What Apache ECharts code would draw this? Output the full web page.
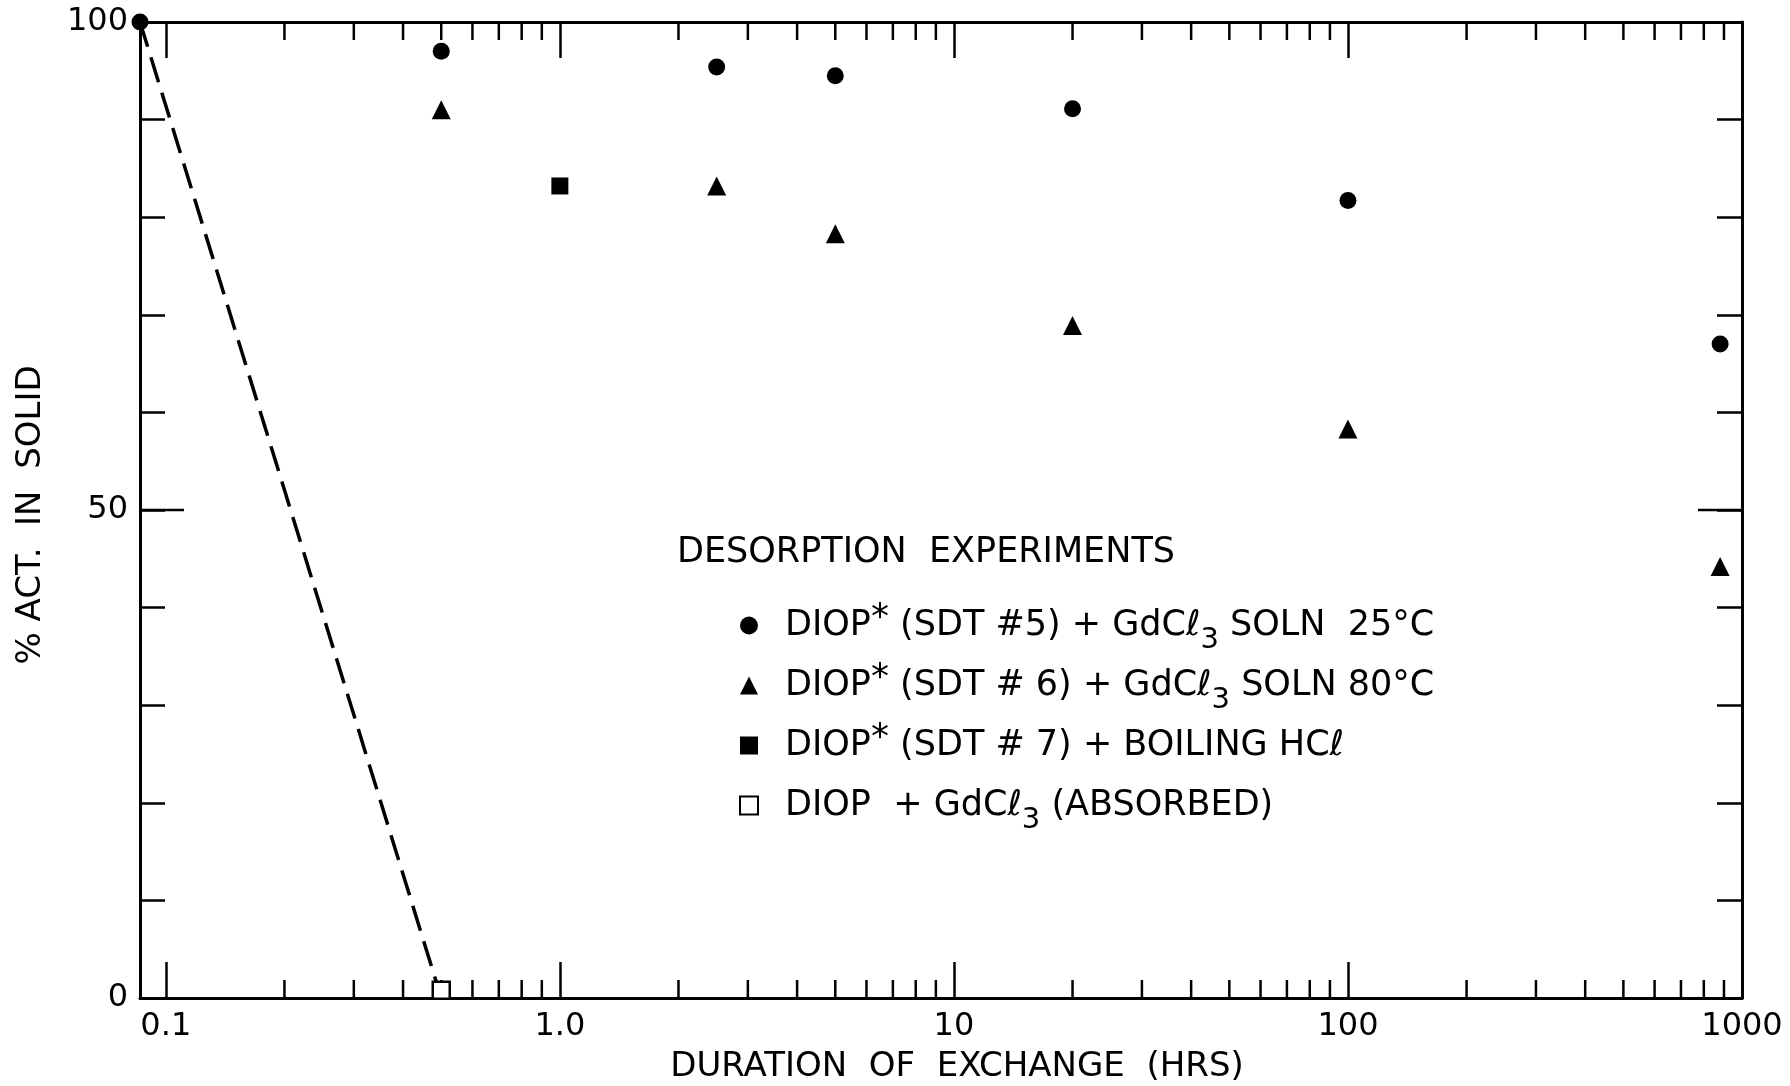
<!DOCTYPE html>
<html>
<head>
<meta charset="utf-8">
<script src="https://cdn.jsdelivr.net/npm/echarts@6/dist/echarts.min.js"></script>
<style>
  html, body { margin: 0; padding: 0; background: #fff; }
  #chart { width: 1790px; height: 1086px; }
</style>
</head>
<body>
<div id="chart"></div>
<script>
// Desorption experiments: % of activity left in the solid vs. duration of exchange (log hours)

// DIOP* (SDT #5) + GdCl3 solution, 25 C  (first point = start of exchange, at the left edge)
const hours25C = [0.086, 0.5, 2.5, 5, 20, 100, 880];
const act25C   = [100, 97.0, 95.4, 94.5, 91.1, 81.7, 67.0];
// DIOP* (SDT #6) + GdCl3 solution, 80 C
const hours80C = [0.5, 2.5, 5, 20, 100, 880];
const act80C   = [91.0, 83.2, 78.3, 68.9, 58.3, 44.2];
// DIOP* (SDT #7) + boiling HCl
const hoursHCl = [1.0];
const actHCl   = [83.2];
// DIOP + GdCl3 (absorbed)
const hoursAbsorbed = [0.5];
const actAbsorbed   = [0.8];
// dashed guide from the starting point down to the absorbed sample
const guideHours = [0.086, 0.5];
const guideAct   = [100, 0];

// axis ticks and labels
const xTickValues = [0.1, 1, 10, 100, 1000];
const xTickLabels = ['0.1', '1.0', '10', '100', '1000'];
const xMinorTicks = [0.2, 0.3, 0.4, 0.5, 0.6, 0.7, 0.8, 0.9,
                     2, 3, 4, 5, 6, 7, 8, 9,
                     20, 30, 40, 50, 60, 70, 80, 90,
                     200, 300, 400, 500, 600, 700, 800, 900];
const yLabelValues = [0, 50, 100];
const yLongTicks = [50];

// legend entries (rich text: superscript asterisk, subscript 3)
const seriesNames = ['SDT5', 'SDT6', 'SDT7', 'ABS'];
const legendLabels = [
  '{b|DIOP}{sup|*}{b| (SDT #5) + GdCℓ}{sub|3}{b| SOLN  25°C}',
  '{b|DIOP}{sup|*}{b| (SDT # 6) + GdCℓ}{sub|3}{b| SOLN 80°C}',
  '{b|DIOP}{sup|*}{b| (SDT # 7) + BOILING HCℓ}',
  '{b|DIOP  + GdCℓ}{sub|3}{b| (ABSORBED)}'
];

// the log paper's frame starts a little below the 0.1 graduation
const X_MIN = 0.086, X_MAX = 1000, Y_MIN = 0, Y_MAX = 100;
const FONT = 'DejaVu Sans';
const INK = '#000';

const pairs = (xs, ys) => xs.map((x, i) => [x, ys[i]]);

function xLabel(v) {
  const i = xTickValues.findIndex(t => Math.abs(Math.log10(t) - Math.log10(v)) < 1e-6);
  return i >= 0 ? xTickLabels[i] : '';
}
function yLabel(v) {
  return yLabelValues.indexOf(Math.round(v)) >= 0 ? String(Math.round(v)) : '';
}

const axisLine = { show: true, onZero: false, lineStyle: { color: INK, width: 3 } };
const tickStyle = { color: INK, width: 2.5 };

const chart = echarts.init(document.getElementById('chart'), null, { renderer: 'canvas' });

const option = {
  backgroundColor: '#fff',
  animation: false,
  grid: { left: 140, right: 48, top: 22, bottom: 88, containLabel: false },
  xAxis: [
    {
      type: 'log', logBase: 10, min: X_MIN, max: X_MAX, position: 'bottom',
      axisLine: axisLine,
      axisTick: { show: true, inside: true, length: 36, lineStyle: tickStyle },
      axisLabel: {
        show: true, margin: 13, color: INK, fontSize: 32, fontFamily: FONT,
        showMinLabel: true, showMaxLabel: true, formatter: xLabel
      },
      splitLine: { show: false }, minorTick: { show: false }, minorSplitLine: { show: false }
    },
    {
      type: 'log', logBase: 10, min: X_MIN, max: X_MAX, position: 'top',
      axisLine: axisLine,
      axisTick: { show: true, inside: true, length: 36, lineStyle: tickStyle },
      axisLabel: { show: false },
      splitLine: { show: false }, minorTick: { show: false }
    }
  ],
  yAxis: [
    {
      type: 'value', min: Y_MIN, max: Y_MAX, interval: 10, position: 'left',
      axisLine: axisLine,
      axisTick: { show: true, inside: true, length: 25, lineStyle: tickStyle },
      axisLabel: {
        show: true, margin: 12, color: INK, fontSize: 32, fontFamily: FONT,
        showMinLabel: true, showMaxLabel: true, formatter: yLabel
      },
      splitLine: { show: false }
    },
    {
      type: 'value', min: Y_MIN, max: Y_MAX, interval: 10, position: 'right',
      axisLine: axisLine,
      axisTick: { show: true, inside: true, length: 25, lineStyle: tickStyle },
      axisLabel: { show: false },
      splitLine: { show: false }
    }
  ],
  legend: {
    data: seriesNames,
    orient: 'vertical',
    left: 739, top: 590.5,
    padding: 0,
    itemGap: -10,
    itemWidth: 18, itemHeight: 18,
    selectedMode: false,
    formatter: name => legendLabels[seriesNames.indexOf(name)],
    textStyle: {
      color: INK, fontFamily: FONT, fontSize: 35,
      // a transparent box of fixed height keeps every entry the same height
      backgroundColor: 'rgba(255,255,255,0)',
      padding: [10, 0, 10, 22],
      rich: {
        b:   { color: INK, fontFamily: FONT, fontSize: 35, lineHeight: 50 },
        sup: { color: INK, fontFamily: FONT, fontSize: 36, lineHeight: 50, padding: [0, 0, 14, 0] },
        sub: { color: INK, fontFamily: FONT, fontSize: 29, lineHeight: 50, padding: [30, 0, 0, 0] }
      }
    }
  },
  graphic: [
    {
      type: 'text', x: 677, y: 553, silent: true,
      style: { text: 'DESORPTION  EXPERIMENTS', fill: INK, font: '35px "DejaVu Sans"',
               align: 'left', verticalAlign: 'middle' }
    },
    {
      type: 'text', x: 957, y: 1067, silent: true,
      style: { text: 'DURATION  OF  EXCHANGE  (HRS)', fill: INK, font: '34px "DejaVu Sans"',
               align: 'center', verticalAlign: 'middle' }
    },
    {
      type: 'text', x: 31, y: 515, rotation: Math.PI / 2, silent: true,
      style: { text: '% ACT.  IN  SOLID', fill: INK, font: '34px "DejaVu Sans"',
               align: 'center', verticalAlign: 'middle' }
    }
  ],
  series: [
    {
      // minor log ticks (2..9 in each decade) on the bottom and top edges
      type: 'custom', name: 'minorTicks', silent: true, clip: false,
      xAxisIndex: 0, yAxisIndex: 0,
      data: xMinorTicks.map(v => [v, Y_MIN]),
      renderItem: (params, api) => {
        const x = api.value(0);
        const b = api.coord([x, Y_MIN]);
        const t = api.coord([x, Y_MAX]);
        const len = 18;
        return {
          type: 'group',
          children: [
            { type: 'line', shape: { x1: b[0], y1: b[1], x2: b[0], y2: b[1] - len }, style: { stroke: INK, lineWidth: 2.5 } },
            { type: 'line', shape: { x1: t[0], y1: t[1], x2: t[0], y2: t[1] + len }, style: { stroke: INK, lineWidth: 2.5 } }
          ]
        };
      }
    },
    {
      // longer ticks marking the 50 % level on both vertical edges
      type: 'custom', name: 'longTicks', silent: true, clip: false,
      xAxisIndex: 0, yAxisIndex: 0,
      data: yLongTicks.map(v => [1, v]),
      renderItem: (params, api) => {
        const v = api.value(1);
        const l = api.coord([X_MIN, v]);
        const r = api.coord([X_MAX, v]);
        const len = 44;
        return {
          type: 'group',
          children: [
            { type: 'line', shape: { x1: l[0], y1: l[1], x2: l[0] + len, y2: l[1] }, style: { stroke: INK, lineWidth: 2.5 } },
            { type: 'line', shape: { x1: r[0], y1: r[1], x2: r[0] - len, y2: r[1] }, style: { stroke: INK, lineWidth: 2.5 } }
          ]
        };
      }
    },
    {
      type: 'line', name: 'guide', silent: true,
      data: pairs(guideHours, guideAct),
      symbol: 'none',
      lineStyle: { color: INK, width: 3.5, type: [26, 11] },
      z: 2
    },
    {
      type: 'scatter', name: seriesNames[0],
      data: pairs(hours25C, act25C),
      symbol: 'circle', symbolSize: 17,
      itemStyle: { color: INK, opacity: 1 },
      z: 3
    },
    {
      type: 'scatter', name: seriesNames[1],
      data: pairs(hours80C, act80C),
      symbol: 'triangle', symbolSize: [19, 19],
      itemStyle: { color: INK, opacity: 1 },
      z: 3
    },
    {
      type: 'scatter', name: seriesNames[2],
      data: pairs(hoursHCl, actHCl),
      symbol: 'rect', symbolSize: 17,
      itemStyle: { color: INK, opacity: 1 },
      z: 3
    },
    {
      type: 'scatter', name: seriesNames[3],
      data: pairs(hoursAbsorbed, actAbsorbed),
      symbol: 'rect', symbolSize: 17,
      itemStyle: { color: '#fff', borderColor: INK, borderWidth: 2.5, opacity: 1 },
      z: 4
    }
  ]
};

chart.setOption(option);
</script>
</body>
</html>
